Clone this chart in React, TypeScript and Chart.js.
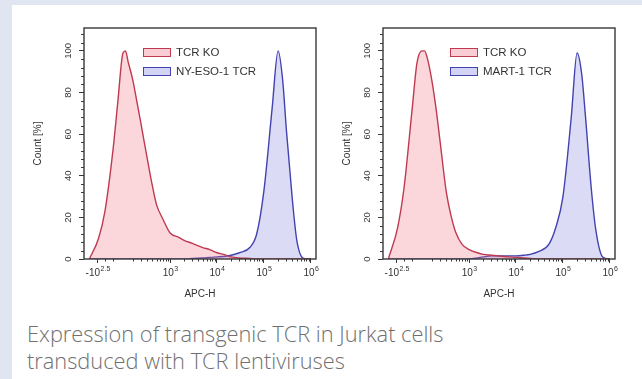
import React, { useEffect, useRef } from 'react';
import { Chart, registerables, LinearScale } from 'chart.js';

Chart.register(...registerables);

// ---------- data ----------
const X_VALUES = [-500, -300, -200, -100, -50, 0, 25, 50, 100, 150, 200, 300, 400, 500, 700, 1000, 1500, 2000, 3000, 5000, 7000, 10000, 15000, 20000, 30000, 50000, 70000, 100000, 150000, 200000, 250000, 300000, 400000, 500000, 700000, 1000000];

const KO_LEFT = [0, 10, 23, 53, 76, 99, 100, 95, 86, 75, 65, 48, 35, 26, 19, 12.5, 10.5, 9, 7.5, 5.5, 4.5, 3, 2, 1, 0.5, 0.3, 0, 0, 0, 0, 0, 0, 0, 0, 0, 0];
const NYESO = [0, 0, 0, 0, 0, 0, 0, 0, 0, 0, 0, 0, 0, 0, 0, 0, 0, 0, 0.3, 0.5, 0.8, 1, 1.3, 1.8, 3, 5.5, 12, 33, 73, 100, 86, 62, 29, 9, 0.3, 0];

const KO_RIGHT = [0, 15, 34, 72, 94, 100, 100, 97, 86, 72, 57, 32, 20, 13, 7, 4.5, 3, 2.2, 1.8, 1.3, 1, 0.8, 0.5, 0.3, 0, 0, 0, 0, 0, 0, 0, 0, 0, 0, 0, 0];
const MART1 = [0, 0, 0, 0, 0, 0, 0, 0, 0, 0, 0, 0, 0, 0, 0, 0, 0.5, 1, 1.5, 1.5, 1.5, 1.5, 1.8, 2.2, 3.5, 7, 15, 30, 68, 99, 89, 69, 34, 14, 1, 0];

const X_TICK_VALUES = [-316.2, 1000, 10000, 100000, 1000000];
const X_TICK_LABELS = ['-10^2.5', '10^3', '10^4', '10^5', '10^6'];
const X_MINOR = [-200, -100, 100, 200, 300, 400, 500, 600, 700, 800, 900, 2000, 3000, 4000, 5000, 6000, 7000, 8000, 9000, 20000, 30000, 40000, 50000, 60000, 70000, 80000, 90000, 200000, 300000, 400000, 500000, 600000, 700000, 800000, 900000];
const Y_TICKS = [0, 20, 40, 60, 80, 100];
const Y_MINOR = [4, 8, 12, 16, 24, 28, 32, 36, 44, 48, 52, 56, 64, 68, 72, 76, 84, 88, 92, 96, 104, 108];

const CAPTION_1 = 'Expression of transgenic TCR in Jurkat cells';
const CAPTION_2 = 'transduced with TCR lentiviruses';

// ---------- biexponential-like scale ----------
const LOG_COF = 2;
const biex = (v: number) => LOG_COF + Math.asinh(v / (2 * Math.pow(10, LOG_COF))) / Math.LN10;
const biexInv = (d: number) => 2 * Math.pow(10, LOG_COF) * Math.sinh((d - LOG_COF) * Math.LN10);

class BiexScale extends LinearScale {
  static id = 'biex';
  static defaults = LinearScale.defaults;
  _tMin = 0;
  _tMax = 1;
  buildTicks() {
    return X_TICK_VALUES.map((v) => ({ value: v }));
  }
  configure() {
    super.configure();
    this._tMin = biex(this.min);
    this._tMax = biex(this.max);
  }
  getPixelForValue(v: number) {
    return this.getPixelForDecimal((biex(v) - this._tMin) / (this._tMax - this._tMin));
  }
  getValueForPixel(p: number) {
    return biexInv(this._tMin + this.getDecimalForPixel(p) * (this._tMax - this._tMin));
  }
}
Chart.register(BiexScale as any);

const AXIS = '#383838';
const TEXT = '#333333';
const FONT = '"Liberation Sans", Arial, sans-serif';

const decorPlugin = {
  id: 'decor',
  afterDatasetsDraw(chart: any, _args: any, opts: any) {
    const { ctx, chartArea: a, scales } = chart;
    const x = scales.x;
    const y = scales.y;
    ctx.save();
    ctx.strokeStyle = AXIS;
    ctx.lineWidth = 1.4;
    ctx.strokeRect(a.left, a.top, a.right - a.left, a.bottom - a.top);
    ctx.lineWidth = 1;
    ctx.beginPath();
    for (const v of Y_MINOR) {
      const py = Math.round(y.getPixelForValue(v)) + 0.5;
      ctx.moveTo(a.left - 3, py);
      ctx.lineTo(a.left, py);
    }
    for (const v of X_MINOR) {
      const px = Math.round(x.getPixelForValue(v)) + 0.5;
      ctx.moveTo(px, a.bottom);
      ctx.lineTo(px, a.bottom + 2.5);
    }
    ctx.stroke();

    // y labels (rotated)
    ctx.fillStyle = TEXT;
    ctx.font = `9.5px ${FONT}`;
    ctx.textAlign = 'center';
    ctx.textBaseline = 'middle';
    for (const v of Y_TICKS) {
      const py = y.getPixelForValue(v);
      ctx.save();
      ctx.translate(a.left - 16, py);
      ctx.rotate(-Math.PI / 2);
      ctx.fillText(String(v), 0, 0);
      ctx.restore();
    }

    // x labels with superscripts
    ctx.textAlign = 'left';
    X_TICK_VALUES.forEach((v, i) => {
      const [base, exp] = X_TICK_LABELS[i].split('^');
      const px = x.getPixelForValue(v);
      ctx.font = `10px ${FONT}`;
      const wb = ctx.measureText(base).width;
      ctx.font = `7px ${FONT}`;
      const we = ctx.measureText(exp).width;
      const start = px - (wb + we) / 2;
      ctx.font = `10px ${FONT}`;
      ctx.fillText(base, start, a.bottom + 14.5);
      ctx.font = `7px ${FONT}`;
      ctx.fillText(exp, start + wb + 0.5, a.bottom + 10);
    });

    // legend inside plot
    ctx.font = `11.5px ${FONT}`;
    ctx.textBaseline = 'middle';
    chart.data.datasets.forEach((ds: any, i: number) => {
      const bx = a.left + opts.legendX;
      const by = a.top + 20 + i * 19;
      ctx.fillStyle = ds.legendFill;
      ctx.fillRect(bx, by, 28, 9);
      ctx.strokeStyle = ds.borderColor;
      ctx.lineWidth = 1;
      ctx.strokeRect(bx + 0.5, by + 0.5, 27, 8);
      ctx.fillStyle = TEXT;
      ctx.fillText(ds.label, bx + 33, by + 5);
    });
    ctx.restore();
  },
};

type PanelProps = { koData: number[]; tcrData: number[]; tcrLabel: string; legendX: number; titlePad: number; left: number };

function Panel({ koData, tcrData, tcrLabel, legendX, titlePad, left }: PanelProps) {
  const ref = useRef<HTMLCanvasElement>(null);
  useEffect(() => {
    if (!ref.current) return;
    const chart = new Chart(ref.current, {
      type: 'line',
      data: {
        datasets: [
          {
            label: 'TCR KO',
            data: X_VALUES.map((xv, i) => ({ x: xv, y: koData[i] })),
            borderColor: '#bf3a50',
            backgroundColor: 'rgba(240,110,130,0.28)',
            legendFill: 'rgba(240,110,130,0.35)',
            fill: 'origin',
            borderWidth: 1.4,
            pointRadius: 0,
            cubicInterpolationMode: 'monotone',
          } as any,
          {
            label: tcrLabel,
            data: X_VALUES.map((xv, i) => ({ x: xv, y: tcrData[i] })),
            borderColor: '#4242b0',
            backgroundColor: 'rgba(110,110,220,0.25)',
            legendFill: 'rgba(110,110,220,0.3)',
            fill: 'origin',
            borderWidth: 1.4,
            pointRadius: 0,
            cubicInterpolationMode: 'monotone',
          } as any,
        ],
      },
      options: {
        responsive: false,
        animation: false,
        devicePixelRatio: 1,
        layout: { padding: { left: 0, top: 18, right: 6, bottom: 0 } },
        plugins: {
          legend: { display: false },
          tooltip: { enabled: false },
          decor: { legendX },
        } as any,
        scales: {
          x: {
            type: 'biex' as any,
            min: -660,
            max: 1280000,
            afterFit: (s: any) => { s.height = 43; },
            ticks: { display: false, autoSkip: false },
            grid: { drawOnChartArea: false, drawTicks: true, tickLength: 4, tickColor: AXIS, tickWidth: 1 },
            border: { display: false },
            title: { display: true, text: 'APC-H', color: TEXT, font: { size: 10, family: FONT }, padding: { top: 0, bottom: 2 } },
          },
          y: {
            type: 'linear',
            min: 0,
            max: 111,
            afterFit: (s: any) => { s.width = 64; },
            afterBuildTicks: (s: any) => { s.ticks = Y_TICKS.map((v) => ({ value: v })); },
            ticks: { display: false },
            grid: { drawOnChartArea: false, drawTicks: true, tickLength: 5, tickColor: AXIS, tickWidth: 1 },
            border: { display: false },
            title: { display: true, text: 'Count [%]', color: TEXT, font: { size: 10, family: FONT }, padding: { top: titlePad, bottom: 0 } },
          },
        },
      } as any,
      plugins: [decorPlugin as any],
    });
    return () => chart.destroy();
  }, []);
  return (
    <div style={{ position: 'absolute', left, top: 10, width: 302, height: 292 }}>
      <canvas ref={ref} width={302} height={292} />
    </div>
  );
}

export default function App() {
  return (
    <div style={{ position: 'absolute', left: 0, top: 0, width: 642, height: 379, background: '#dfe6f1', overflow: 'hidden' }}>
      <div style={{ position: 'absolute', left: 12, top: 5, width: 630, height: 374, background: '#ffffff' }} />
      <Panel koData={KO_LEFT} tcrData={NYESO} tcrLabel="NY-ESO-1 TCR" legendX={59} titlePad={12} left={20} />
      <Panel koData={KO_RIGHT} tcrData={MART1} tcrLabel="MART-1 TCR" legendX={67} titlePad={22} left={319} />
      <div
        style={{
          position: 'absolute',
          left: 27,
          top: 320,
          fontFamily: '"Open Sans", sans-serif',
          fontWeight: 300,
          fontSize: 21.8,
          lineHeight: '27px',
          color: '#707070',
          whiteSpace: 'nowrap',
        }}
      >
        <div>{CAPTION_1}</div>
        <div>{CAPTION_2}</div>
      </div>
    </div>
  );
}
